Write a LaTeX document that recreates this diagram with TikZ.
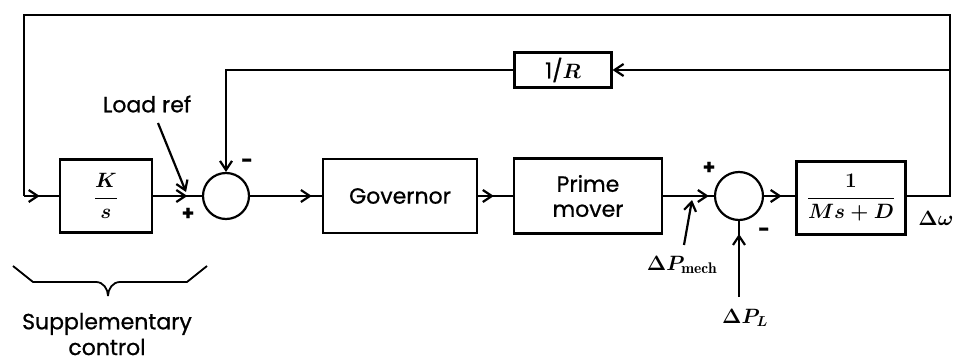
\documentclass[tikz,border=0pt]{standalone}
\usepackage{fontspec}
\setsansfont{Poppins}[FakeBold=0.8]
\usetikzlibrary{arrows.meta,decorations.markings,calc}
\tikzset{
  tip/.style={-{Straight Barb[length=9pt,width=12pt,line width=2.2pt]}},
  midarr/.style={postaction={decorate},decoration={markings,
     mark=at position #1 with {\arrow{Straight Barb[length=9pt,width=12pt,line width=2.2pt]}}}},
  blk/.style={draw,line width=2.2pt,rectangle,inner sep=0pt,font=\sffamily\fontsize{22}{27}\selectfont\boldmath,align=center},
  sum/.style={draw,line width=2.2pt,circle,inner sep=0pt,minimum size=46pt},
  lbl/.style={font=\sffamily\fontsize{22}{26}\selectfont\boldmath,inner sep=0pt},
  sgn/.style={font=\sffamily\bfseries\fontsize{20}{22}\selectfont,inner sep=0pt},
  wire/.style={line width=2.2pt}
}
\begin{document}
\begin{tikzpicture}[x=1pt,y=-1pt]
\useasboundingbox (0,0) rectangle (958,363);
% blocks
\node[blk,minimum width=92pt,minimum height=73pt] (ks) at (106,196) {$\displaystyle\frac{K}{s}$};
\node[sum] (s1) at (226,196) {};
\node[blk,minimum width=154pt,minimum height=74pt] (gov) at (400,196) {Governor};
\node[blk,minimum width=148pt,minimum height=75pt] (pm) at (588,196) {Prime\\[-2pt]mover};
\node[sum,minimum size=48pt] (s2) at (739,196) {};
\node[blk,minimum width=109pt,minimum height=73pt] (pl) at (851,198) {$\displaystyle\frac{\;1\;}{Ms+D}$};
\node[blk,minimum width=97pt,minimum height=35pt] (ri) at (563,70) {1/$R$};
% coordinates
\coordinate (oR) at (950,196);
\coordinate (tR) at (950,15);
\coordinate (tL) at (24,15);
\coordinate (bL) at (24,196);
\coordinate (fR) at (950,70);
\coordinate (fL) at (226,70);
\coordinate (lr0) at (158,123);
\coordinate (lr1) at (186,192);
\coordinate (pm0) at (684,245);
\coordinate (pm1) at (692,200);
\coordinate (pl0) at (739,297);
% connectors
\draw[wire] (pl.east |- oR) -- (oR) -- (tR) -- (tL) -- (bL);
\draw[wire,midarr=0.45] (bL) -- (ks.west);
\draw[wire,tip] (fR) -- (ri.east);
\draw[wire,tip] (ri.west) -- (fL) -- (s1.north);
\draw[wire,midarr=0.7] (ks.east) -- (s1.west);
\draw[wire,tip] (lr0) -- (lr1);
\draw[wire,midarr=0.86] (s1.east) -- (gov.west);
\draw[wire,midarr=0.45] (gov.east) -- (pm.west);
\draw[wire,midarr=0.9] (pm.east) -- (s2.west);
\draw[wire,tip] (pm0) -- (pm1);
\draw[wire,midarr=0.83] (pl0) -- (s2.south);
\draw[wire,midarr=0.56] (s2.east) -- (pl.west |- s2.east);
% signs and labels
\node[sgn] (p1) at (188,214) {+};
\node[sgn] (m1) at (247,163) {-};
\node[sgn] (p2) at (709,168) {+};
\node[sgn] (m2) at (764,232) {-};
\node[lbl] (lref) at (147,104) {Load ref};
\node[lbl] (dw) at (936,218) {$\Delta\omega$};
\node[lbl] (dpm) at (682,265) {$\Delta P_{\mathrm{mech}}$};
\node[lbl] (dpl) at (745,318) {$\Delta P_{L}$};
% brace
\draw[wire,line width=1.8pt,line join=round] (13,266) -- (33,282) -- (96,282) to[out=0,in=90] (108,296);
\draw[wire,line width=1.8pt,line join=round] (207,266) -- (187,282) -- (120,282) to[out=180,in=90] (108,296);
\node[lbl] (sup) at (107,324) {Supplementary};
\node[lbl] (ctl) at (107,347) {control};
\end{tikzpicture}
\end{document}
